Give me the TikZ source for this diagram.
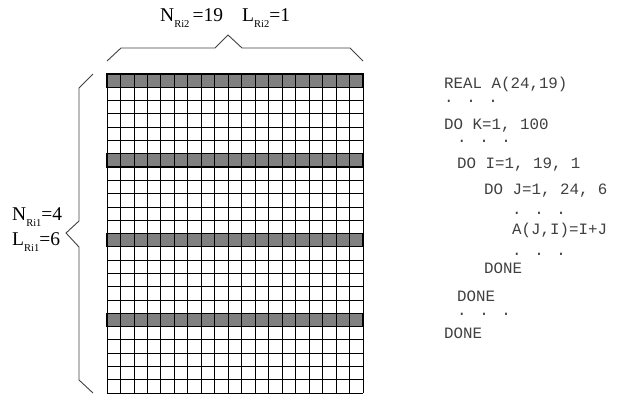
\documentclass[tikz,border=0pt]{standalone}
\usepackage{fontspec}
\setmainfont{Liberation Serif}
\newfontfamily\courfont{Liberation Mono}
\newcommand{\mysub}[1]{\raisebox{-6.5pt}{\fontsize{10.5}{10.5}\selectfont #1}}
\tikzset{
  gridline/.style={line width=0.8pt, black},
  bracel/.style={line width=0.9pt, black!75, line join=miter},
  lbl/.style={inner sep=0pt, anchor=base west, font=\fontsize{19.5}{20}\selectfont},
  code/.style={inner sep=0pt, anchor=base west, font=\courfont\fontsize{15.8}{16}\selectfont, text=black!75},
  dots/.style={code, text height=2.5pt, text depth=0pt},
}
\begin{document}
\begin{tikzpicture}[x=1pt,y=-1pt]
\useasboundingbox (0,0) rectangle (624,402);
\pgfmathsetmacro{\cw}{256/19}
\pgfmathsetmacro{\ch}{319/24}
% shaded rows
\foreach \r in {0,6,12,18}{
  \fill[black!50] (107,{74+\r*\ch}) rectangle (363,{74+(\r+1)*\ch});
}
% grid
\foreach \i in {0,...,19}{
  \draw[gridline] ({107+\i*\cw},74) -- ({107+\i*\cw},393);
}
\foreach \j in {0,...,24}{
  \draw[gridline] (107,{74+\j*\ch}) -- (363,{74+\j*\ch});
}
\foreach \r in {0,6,12,18}{
  \draw[line width=1.4pt] (107,{74+\r*\ch}) rectangle (363,{74+(\r+1)*\ch});
}
% braces
\draw[bracel] (107,61) -- (121,48) -- (215,48) -- (228,35) -- (242,48) -- (350,48) -- (363,61);
\draw[bracel] (93,74) -- (79,88) -- (79,221) -- (66,233) -- (79,247) -- (79,380) -- (93,393);
% labels
\node[lbl] (ntop) at (160,21) {N\mysub{Ri2}\,=19};
\node[lbl] (ltop) at (242,21) {L\mysub{Ri2}=1};
\node[lbl] (nleft) at (12,220) {N\mysub{Ri1}=4};
\node[lbl] (lleft) at (12,245) {L\mysub{Ri1}=6};
% code
\node[code] (c1) at (444,88) {REAL A(24,19)};
\node[dots] (c2) at (444,102.5) {. . .};
\node[code] (c3) at (444,129) {DO K=1, 100};
\node[dots] (c4) at (457,142) {. . .};
\node[code] (c5) at (457,168) {DO I=1, 19, 1};
\node[code] (c6) at (484,194) {DO J=1, 24, 6};
\node[dots] (c7) at (512,214) {. . .};
\node[code] (c8) at (512,234) {A(J,I)=I+J};
\node[dots] (c9) at (512,255) {. . .};
\node[code] (c10) at (484,273) {DONE};
\node[code] (c11) at (457,301) {DONE};
\node[dots] (c12) at (457,315) {. . .};
\node[code] (c13) at (444,338) {DONE};
\end{tikzpicture}
\end{document}
